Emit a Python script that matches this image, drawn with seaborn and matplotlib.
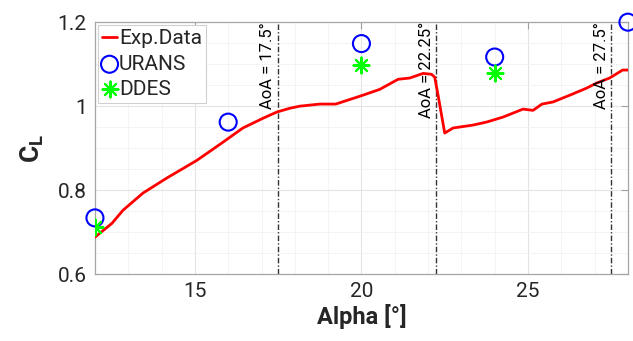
import numpy as np
import pandas as pd
import seaborn as sns
import matplotlib.pyplot as plt
from matplotlib.ticker import MultipleLocator

# Data
exp_alpha = [12.0, 12.51, 12.84, 13.44, 14.16, 15.06, 15.84, 16.44, 17.04, 17.46, 17.85,
             18.15, 18.75, 19.23, 20.04, 20.55, 21.1, 21.45, 21.85, 22.1, 22.2, 22.3, 22.5,
             22.75, 23.35, 23.75, 24.25, 24.85, 25.15, 25.42, 25.75, 26.25, 26.76, 27.06,
             27.45, 27.84, 28.0]
exp_cl = [0.688, 0.721, 0.752, 0.793, 0.829, 0.871, 0.914, 0.948, 0.971, 0.986, 0.995,
          1.0, 1.005, 1.005, 1.026, 1.04, 1.064, 1.067, 1.078, 1.076, 1.069, 1.026, 0.936,
          0.948, 0.955, 0.962, 0.974, 0.993, 0.99, 1.005, 1.01, 1.026, 1.043, 1.055,
          1.067, 1.086, 1.086]
urans_alpha = [12, 16, 20, 24, 28]
urans_cl = [0.734, 0.962, 1.149, 1.117, 1.2]
ddes_alpha = [12, 20, 24]
ddes_cl = [0.712, 1.098, 1.079]
aoa_marks = [17.5, 22.25, 27.5]
aoa_labels = ["AoA = 17.5°", "AoA = 22.25°", "AoA = 27.5°"]

sns.set_style("white")
plt.rcParams["font.family"] = ["Roboto", "DejaVu Sans"]
plt.rcParams["mathtext.fontset"] = "custom"
plt.rcParams["mathtext.bf"] = "Roboto:bold"
plt.rcParams["mathtext.rm"] = "Roboto"

fig = plt.figure(figsize=(6.33, 3.41), dpi=100, facecolor="white")
ax = fig.add_axes([0.150, 0.196, 0.842, 0.739])

exp = pd.DataFrame({"alpha": exp_alpha, "cl": exp_cl})
sns.lineplot(data=exp, x="alpha", y="cl", ax=ax, color="#ff0000", linewidth=2.0,
             label="Exp.Data", sort=False, zorder=3)
sns.scatterplot(x=urans_alpha, y=urans_cl, ax=ax, marker="o", s=150, facecolor="none",
                edgecolor="#0000ff", linewidth=1.5, label="URANS", clip_on=False, zorder=4)
sns.scatterplot(x=ddes_alpha, y=ddes_cl, ax=ax, marker=(8, 2, 0), s=130, color="#00ff00",
                edgecolor="#00ff00", linewidth=1.5, label="DDES", zorder=4)

for xm, lab in zip(aoa_marks, aoa_labels):
    ax.axvline(xm, color="#333333", linestyle=(0, (4, 1.5, 1, 1.5)), linewidth=1.0, zorder=2)
    ax.text(xm - 0.08, 1.2, lab, rotation=90, ha="right", va="top", fontsize=12,
            color="black")

ax.set_xlim(12, 28)
ax.set_ylim(0.6, 1.2)
ax.set_xticks([15, 20, 25])
ax.set_yticks([0.6, 0.8, 1.0, 1.2])
ax.set_yticklabels(["0.6", "0.8", "1", "1.2"])
ax.xaxis.set_minor_locator(MultipleLocator(1))
ax.yaxis.set_minor_locator(MultipleLocator(0.05))
ax.grid(which="major", color="#e4e4e4", linewidth=0.8)
ax.grid(which="minor", color="#f2f2f2", linewidth=0.6)
ax.set_axisbelow(True)
ax.tick_params(which="both", direction="in", top=True, right=True, color="#a0a0a0",
               labelsize=15, labelcolor="#262626", pad=6)
ax.tick_params(which="major", length=5)
ax.tick_params(which="minor", length=0)
for sp in ax.spines.values():
    sp.set_visible(True)
    sp.set_color("#a6a6a6")
    sp.set_linewidth(0.9)

ax.set_xlabel("Alpha [°]", fontsize=17, fontweight="bold", labelpad=2)
ax.set_ylabel(r"$\mathbf{C_L}$", fontsize=19, labelpad=8)

leg = ax.legend(loc="upper left", fontsize=15, handlelength=0.7, handletextpad=0.1,
                borderpad=0.2, labelspacing=0.3, borderaxespad=0.15, fancybox=False,
                framealpha=1, edgecolor="#d0d0d0")
leg.get_frame().set_linewidth(0.8)

fig.savefig("out.png", dpi=100, facecolor="white")
